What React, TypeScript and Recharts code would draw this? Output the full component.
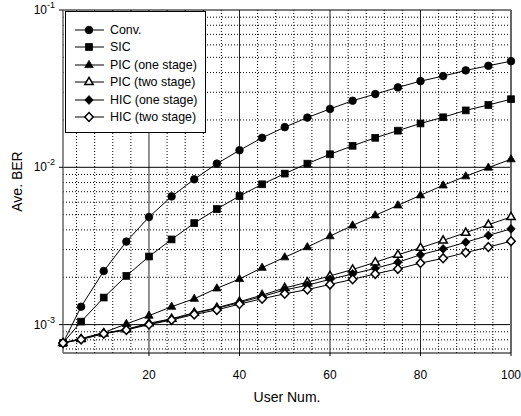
import React from "react";
import { Label, Line, LineChart, ReferenceLine, XAxis, YAxis } from "recharts";

const users = [1, 5, 10, 15, 20, 25, 30, 35, 40, 45, 50, 55, 60, 65, 70, 75, 80, 85, 90, 95, 100];

const conv = [7.64e-4, 1.3e-3, 2.19e-3, 3.37e-3, 4.83e-3, 6.53e-3, 8.39e-3, 1.055e-2, 1.283e-2, 1.54e-2, 1.8e-2, 2.07e-2, 2.35e-2, 2.65e-2, 2.92e-2, 3.22e-2, 3.53e-2, 3.8e-2, 4.13e-2, 4.42e-2, 4.73e-2];
const sic = [7.64e-4, 1.045e-3, 1.486e-3, 2.04e-3, 2.71e-3, 3.48e-3, 4.42e-3, 5.43e-3, 6.57e-3, 7.8e-3, 9.12e-3, 1.055e-2, 1.21e-2, 1.37e-2, 1.54e-2, 1.71e-2, 1.9e-2, 2.08e-2, 2.3e-2, 2.49e-2, 2.71e-2];
const picOne = [7.64e-4, 8.15e-4, 8.9e-4, 1.01e-3, 1.14e-3, 1.3e-3, 1.46e-3, 1.7e-3, 1.95e-3, 2.3e-3, 2.68e-3, 3.11e-3, 3.65e-3, 4.27e-3, 4.95e-3, 5.73e-3, 6.64e-3, 7.68e-3, 8.77e-3, 9.96e-3, 1.125e-2];
const picTwo = [7.64e-4, 8.1e-4, 8.8e-4, 9.35e-4, 1.02e-3, 1.09e-3, 1.19e-3, 1.28e-3, 1.4e-3, 1.54e-3, 1.71e-3, 1.86e-3, 2.04e-3, 2.24e-3, 2.49e-3, 2.78e-3, 3.08e-3, 3.43e-3, 3.84e-3, 4.32e-3, 4.83e-3];
const hicOne = [7.64e-4, 8.1e-4, 8.8e-4, 9.3e-4, 1.01e-3, 1.08e-3, 1.18e-3, 1.27e-3, 1.38e-3, 1.51e-3, 1.66e-3, 1.78e-3, 1.94e-3, 2.1e-3, 2.28e-3, 2.49e-3, 2.78e-3, 3.03e-3, 3.34e-3, 3.69e-3, 4.06e-3];
const hicTwo = [7.64e-4, 8.05e-4, 8.75e-4, 9.25e-4, 1.0e-3, 1.07e-3, 1.16e-3, 1.24e-3, 1.35e-3, 1.46e-3, 1.57e-3, 1.67e-3, 1.8e-3, 1.94e-3, 2.1e-3, 2.26e-3, 2.46e-3, 2.64e-3, 2.87e-3, 3.11e-3, 3.39e-3];

const xTicks = [20, 40, 60, 80, 100];
const yTicks = [0.001, 0.01, 0.1];
const xMajorGrid = [20, 40, 60, 80];
const yMajorGrid = [0.01, 0.001];
const xMinorGrid = [4, 8, 12, 16, 24, 28, 32, 36, 44, 48, 52, 56, 64, 68, 72, 76, 84, 88, 92, 96];
const yMinorGrid = [7e-4, 8e-4, 9e-4, 2e-3, 3e-3, 4e-3, 5e-3, 6e-3, 7e-3, 8e-3, 9e-3, 2e-2, 3e-2, 4e-2, 5e-2, 6e-2, 7e-2, 8e-2, 9e-2];

type Shape = "circle" | "square" | "triangle" | "diamond";

const series: { key: string; name: string; shape: Shape; filled: boolean }[] = [
  { key: "conv", name: "Conv.", shape: "circle", filled: true },
  { key: "sic", name: "SIC", shape: "square", filled: true },
  { key: "picOne", name: "PIC (one stage)", shape: "triangle", filled: true },
  { key: "picTwo", name: "PIC (two stage)", shape: "triangle", filled: false },
  { key: "hicOne", name: "HIC (one stage)", shape: "diamond", filled: true },
  { key: "hicTwo", name: "HIC (two stage)", shape: "diamond", filled: false },
];

const data = users.map((u, i) => ({
  user: u,
  conv: conv[i],
  sic: sic[i],
  picOne: picOne[i],
  picTwo: picTwo[i],
  hicOne: hicOne[i],
  hicTwo: hicTwo[i],
}));

function Marker({ cx, cy, shape, filled }: { cx: number; cy: number; shape: Shape; filled: boolean }) {
  const fill = filled ? "#000" : "#fff";
  const sw = filled ? 0.8 : 1.5;
  if (shape === "circle") return <circle cx={cx} cy={cy} r={3.8} fill={fill} stroke="#000" strokeWidth={sw} />;
  if (shape === "square") return <rect x={cx - 3.4} y={cy - 3.4} width={6.8} height={6.8} fill={fill} stroke="#000" strokeWidth={sw} />;
  if (shape === "triangle")
    return <path d={`M${cx},${cy - 4.6}L${cx + 4.2},${cy + 2.6}L${cx - 4.2},${cy + 2.6}Z`} fill={fill} stroke="#000" strokeWidth={sw} />;
  return <path d={`M${cx},${cy - 4.4}L${cx + 4.2},${cy}L${cx},${cy + 4.4}L${cx - 4.2},${cy}Z`} fill={fill} stroke="#000" strokeWidth={sw} />;
}

const makeDot = (shape: Shape, filled: boolean, key: string) => (p: any) => (
  <Marker key={`${key}-${p.index}`} cx={p.cx} cy={p.cy} shape={shape} filled={filled} />
);

const YTick = (props: any) => {
  const { x, y, payload } = props;
  const exp = Math.round(Math.log10(payload.value));
  return (
    <text x={x} y={y + 4} textAnchor="end" fontSize={12} fill="#000">
      <tspan>10</tspan>
      <tspan dy={-6} fontSize={9}>{exp}</tspan>
    </text>
  );
};

const font = "Arial, 'Liberation Sans', Helvetica, sans-serif";

export default function App() {
  return (
    <div style={{ position: "absolute", left: 0, top: 0, width: 521, height: 416, background: "#fff", fontFamily: font }}>
      <LineChart width={521} height={416} data={data} margin={{ top: 10, right: 10, bottom: 0, left: 0 }}>
        <XAxis
          dataKey="user"
          type="number"
          domain={[1, 100]}
          ticks={xTicks}
          height={63}
          tick={{ fill: "#000", fontSize: 12, fontFamily: font }}
          tickSize={3}
          tickMargin={14}
          tickLine={{ stroke: "#000" }}
          axisLine={{ stroke: "#000" }}
        >
          <Label
            content={(p: any) => (
              <text x={p.viewBox.x + p.viewBox.width / 2} y={p.viewBox.y + 49} textAnchor="middle" fontSize={14} fill="#000" fontFamily={font}>
                User Num.
              </text>
            )}
          />
        </XAxis>
        <YAxis
          scale="log"
          domain={[0.00066, 0.1]}
          ticks={yTicks}
          width={63}
          tick={<YTick />}
          tickSize={4}
          tickMargin={4}
          tickLine={{ stroke: "#000" }}
          axisLine={{ stroke: "#666", strokeWidth: 1.5 }}
        >
          <Label
            content={(p: any) => {
              const cy = p.viewBox.y + p.viewBox.height / 2;
              return (
                <text x={21.5} y={cy} transform={`rotate(-90, 21.5, ${cy})`} textAnchor="middle" fontSize={14} fill="#000" fontFamily={font}>
                  Ave. BER
                </text>
              );
            }}
          />
        </YAxis>
        {xMinorGrid.map((v) => (
          <ReferenceLine key={`xm-${v}`} x={v} stroke="#000" strokeWidth={1} strokeDasharray="1 2" />
        ))}
        {yMinorGrid.map((v) => (
          <ReferenceLine key={`ym-${v}`} y={v} stroke="#000" strokeWidth={1} strokeDasharray="1 2" />
        ))}
        {xMajorGrid.map((v) => (
          <ReferenceLine key={`xM-${v}`} x={v} stroke="#222" strokeWidth={1} />
        ))}
        {yMajorGrid.map((v) => (
          <ReferenceLine key={`yM-${v}`} y={v} stroke="#000" strokeWidth={1} />
        ))}
        <ReferenceLine y={0.1} stroke="#000" strokeWidth={1} />
        <ReferenceLine x={100} stroke="#666" strokeWidth={2} />
        {series.map((s) => (
          <Line
            key={s.key}
            dataKey={s.key}
            name={s.name}
            stroke="#000"
            strokeWidth={1}
            dot={makeDot(s.shape, s.filled, s.key)}
            isAnimationActive={false}
          />
        ))}
      </LineChart>
      <div
        style={{
          position: "absolute",
          left: 65,
          top: 11,
          width: 141,
          height: 122,
          background: "#fff",
          border: "1px solid #000",
          boxSizing: "border-box",
          paddingTop: 9,
        }}
      >
        {series.map((s) => (
          <div key={s.key} style={{ display: "flex", alignItems: "center", height: 17.5, marginLeft: 8 }}>
            <svg width={32} height={12} style={{ display: "block" }}>
              <line x1={1} y1={6} x2={30} y2={6} stroke="#000" strokeWidth={1} />
              <Marker cx={15} cy={6} shape={s.shape} filled={s.filled} />
            </svg>
            <span style={{ marginLeft: 4, fontSize: 12.4, color: "#000", whiteSpace: "nowrap" }}>{s.name}</span>
          </div>
        ))}
      </div>
    </div>
  );
}
